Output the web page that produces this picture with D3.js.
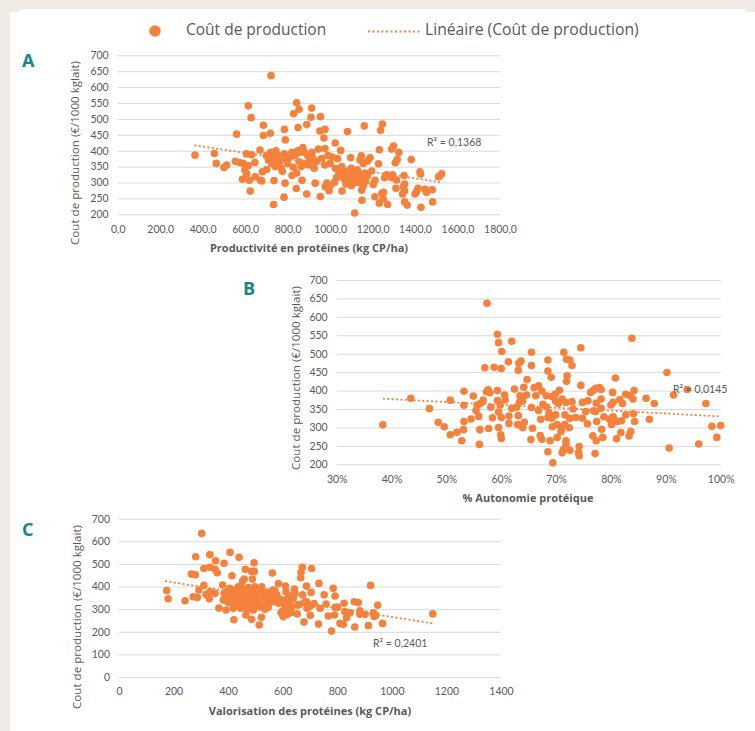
<!DOCTYPE html>
<html>
<head>
<meta charset="utf-8">
<script src="https://cdn.jsdelivr.net/npm/d3@7"></script>
<style>
  html, body { margin: 0; padding: 0; background: #efebe4; }
  svg { display: block; }
  text { font-family: "Open Sans", Lato, sans-serif; fill: #595959; }
</style>
</head>
<body>
<div id="container"></div>
<script>
/* DATA : [x, cout de production] */
const pointsA = [[722,636],[615,541],[628,504],[560,452],[686,480],[686,448],[719,455],[785,467],[789,434],[843,551],[854,530],[828,516],[913,534],[910,505],[955,507],[849,473],[890,482],[952,462],[976,467],[971,440],[1082,460],[1161,478],[1246,484],[1238,464],[1024,424],[1050,401],[976,407],[1299,415],[1290,405],[1324,394],[1232,403],[1382,372],[1316,372],[1307,362],[1228,359],[1097,378],[1147,384],[1141,371],[1188,378],[1177,368],[1156,360],[1196,336],[1211,307],[1203,294],[1211,255],[1244,266],[1252,269],[1250,248],[1232,235],[1271,231],[1116,204],[1150,244],[1149,276],[1156,289],[1167,303],[1257,315],[1266,324],[1294,324],[1290,315],[1313,308],[1310,282],[1348,322],[1351,295],[1345,287],[1351,274],[1341,264],[1351,239],[1363,229],[1423,334],[1426,327],[1414,282],[1407,271],[1400,264],[1447,279],[1454,269],[1481,277],[1483,239],[1428,222],[1511,318],[1525,327],[1518,322],[364,386],[455,391],[464,360],[500,347],[513,355],[554,367],[573,363],[591,360],[615,353],[599,339],[607,327],[587,310],[620,307],[624,273],[646,363],[607,390],[631,387],[648,318],[672,307],[678,305],[681,334],[701,341],[670,402],[736,306],[788,298],[734,231],[783,254],[841,281],[890,264],[954,256],[868,307],[821,322],[843,330],[827,348],[930,298],[985,298],[977,287],[995,274],[1056,273],[700,385],[710,370],[720,395],[725,360],[735,375],[745,400],[742,350],[755,385],[762,365],[770,345],[775,335],[785,390],[790,375],[800,360],[812,380],[820,395],[835,385],[848,400],[860,395],[872,410],[855,365],[865,350],[880,360],[895,385],[905,370],[915,395],[925,345],[935,365],[945,405],[960,375],[975,355],[990,385],[1000,360],[1010,380],[1025,345],[1035,375],[1045,340],[1055,350],[1060,325],[1070,335],[1080,310],[1090,320],[1100,345],[1105,300],[1112,330],[1120,315],[1128,340],[1135,300],[1145,325],[1155,310],[1165,330],[1175,320],[1100,290],[1110,310],[1075,295],[1030,315],[1020,300],[1000,290],[715,380],[728,388],[738,365],[750,372],[768,378],[880,395],[900,355],[920,375],[1040,325],[1052,335],[1065,312],[1085,330],[1095,305],[1115,320],[1125,300],[1140,312]];
const trendA = [[361,417],[1520,301]];

const pointsB = [[57.4,637],[59.3,553],[59.5,530],[60.1,506],[61.9,534],[57,462],[58.7,463],[60,460],[61.3,478],[63.1,455],[63.2,474],[63.6,480],[65.5,504],[65.5,468],[68.5,483],[68.5,453],[69.1,436],[71.4,504],[71.9,485],[72.5,483],[72.9,468],[72,440],[71.9,425],[74.5,516],[83.8,542],[80.8,434],[74.5,414],[64.7,430],[64.1,409],[62.4,404],[66,408],[66.8,413],[67.4,399],[66.3,386],[64.6,388],[63.4,386],[63.9,372],[63.3,368],[62.8,355],[61.9,352],[61.4,331],[61.4,311],[63.1,332],[63,308],[63.9,299],[64.2,314],[65.7,298],[65.4,267],[65.5,354],[66.8,346],[67.2,322],[67.6,363],[68.2,356],[68.7,340],[69.2,325],[68.5,327],[69.9,334],[69.3,302],[70.2,308],[71,300],[70.9,289],[70.2,273],[68.9,264],[67.1,278],[67.4,268],[68.5,234],[69.4,204],[71.8,264],[71.8,254],[71.3,239],[71.1,231],[72.5,238],[74.2,248],[74.1,232],[74.2,223],[77.1,229],[70.6,401],[69.8,390],[69.2,384],[68.2,386],[69.9,372],[71.1,377],[70.4,365],[71.8,368],[72.9,370],[73.1,350],[71.6,334],[72.5,325],[73.6,327],[72.4,299],[71.6,308],[74.8,368],[75.8,372],[75.4,343],[74.8,325],[75.7,310],[76.3,395],[76.8,401],[77.2,406],[77.9,408],[78.2,403],[78.2,377],[77.3,366],[78.2,352],[77.2,343],[76.8,345],[78.7,329],[77.4,316],[78.3,295],[76.7,277],[77.3,264],[78.5,273],[80.3,395],[80,361],[80.4,368],[81.6,376],[82.1,365],[82.7,390],[83.5,386],[84,377],[84.2,400],[84.1,337],[84.3,316],[82.7,334],[81.9,318],[81.2,316],[80.4,329],[79.7,323],[80.1,308],[81.8,286],[81,269],[83.6,289],[83.3,277],[86.4,379],[87.9,365],[87,322],[90.2,449],[91.4,388],[93.9,403],[97.3,365],[98.4,303],[100,305],[99.3,273],[96,255],[90.6,244],[38.4,307],[43.5,379],[46.9,351],[48.5,314],[49.6,302],[50.7,280],[50.7,374],[51.9,287],[52.8,264],[53.1,294],[53.2,316],[53.2,360],[53.2,398],[54.5,323],[54.9,385],[55.6,361],[55.4,346],[55.9,330],[56.1,294],[56,254],[57.7,297],[58.4,326],[58.1,355],[56.2,365],[56.7,374],[57.3,397],[57.6,402],[57.9,394],[59.3,400],[59.3,373],[59.8,361],[59.5,342],[60,327],[59.5,300],[59.9,280],[60,270],[60.6,388],[60.7,375]];
const trendB = [[38.4,378],[100,330]];

const pointsC = [[303,635],[407,551],[440,529],[333,541],[281,532],[354,514],[495,505],[385,503],[311,480],[333,485],[352,476],[360,461],[265,455],[280,452],[414,448],[463,476],[486,467],[496,467],[562,460],[672,485],[667,463],[666,439],[706,480],[489,433],[459,433],[453,424],[733,414],[584,413],[610,402],[523,399],[498,399],[474,396],[380,407],[311,405],[785,392],[922,405],[687,402],[643,389],[612,377],[704,374],[752,364],[792,358],[673,363],[639,362],[175,382],[180,346],[242,337],[272,355],[287,352],[293,385],[319,365],[333,377],[331,346],[352,370],[366,305],[392,296],[382,340],[395,377],[407,392],[423,363],[437,399],[449,385],[410,340],[429,326],[419,304],[421,253],[446,304],[462,318],[465,274],[486,255],[514,230],[522,264],[492,296],[505,333],[529,318],[547,308],[535,348],[547,374],[572,380],[562,333],[584,326],[596,329],[594,284],[602,267],[617,277],[627,301],[639,348],[653,279],[655,318],[678,243],[688,333],[706,318],[701,273],[689,304],[731,234],[737,304],[759,323],[767,270],[779,203],[790,274],[792,308],[801,308],[810,237],[822,233],[825,326],[828,289],[834,262],[847,284],[862,333],[877,329],[864,221],[883,293],[883,277],[902,277],[914,227],[932,284],[935,267],[941,273],[948,317],[966,237],[1150,279],[385,370],[392,355],[400,330],[405,385],[412,365],[418,345],[425,385],[430,375],[435,355],[440,335],[445,315],[450,395],[455,370],[460,350],[468,335],[472,310],[478,380],[482,360],[488,345],[495,325],[500,375],[508,350],[515,310],[520,385],[528,360],[535,300],[540,375],[548,335],[555,350],[565,385],[570,345],[578,365],[590,345],[598,290],[605,320],[612,300],[620,355],[625,330],[632,310],[645,370],[660,320],[680,330],[695,310],[715,325],[420,320],[440,365],[470,300],[510,330],[560,365],[600,275],[610,340],[630,285]];
const trendC = [[169,424],[1150,237]];

const costTicksAB = d3.range(200, 701, 50);
const costTicksC = d3.range(0, 701, 100);
const protTicksA = d3.range(0, 1801, 200);
const autoTicksB = d3.range(30, 101, 10);
const valoTicksC = d3.range(0, 1401, 200);

const orange = "#f4813c";
const grey = "#595959";
const teal = "#14868c";
const frLocale = d3.formatLocale({ decimal: ",", thousands: "", grouping: [3], currency: ["", "€"] });

/* SVG */
const width = 755, height = 731;
const svg = d3.select("#container").append("svg")
  .attr("width", width)
  .attr("height", height);

// white page behind the charts
svg.append("rect").attr("x", 10).attr("y", 12).attr("width", width - 10).attr("height", height - 12).attr("fill", "white");
svg.append("rect").attr("x", 19).attr("y", 9).attr("width", 745 - 19).attr("height", 4).attr("fill", "white");

function drawPanel(p) {
  const xScale = d3.scaleLinear().domain(p.xDomain).range(p.xRange);
  const yScale = d3.scaleLinear().domain(p.yDomain).range(p.yRange);

  const yAxis = d3.axisLeft(yScale).tickValues(p.yTicks)
    .tickSize(-(p.xRange[1] - p.xRange[0])).tickPadding(9).tickFormat(d3.format("d"));
  svg.append("g")
    .attr("transform", `translate(${p.xRange[0]},0)`)
    .call(yAxis)
    .call(g => g.select(".domain").remove())
    .call(g => g.selectAll("line").attr("stroke", "#d9d9d9").attr("stroke-width", 1))
    .call(g => g.selectAll("text").attr("font-size", 10.5).style("font-family", "Lato").attr("fill", grey));

  const xAxis = d3.axisBottom(xScale).tickValues(p.xTicks)
    .tickSize(0).tickPadding(p.xPad).tickFormat(p.xFormat);
  svg.append("g")
    .attr("transform", `translate(0,${p.yRange[0]})`)
    .call(xAxis)
    .call(g => g.select(".domain").remove())
    .call(g => g.selectAll("text").attr("font-size", 10.5).style("font-family", "Lato").attr("fill", grey));

  // trend line under the points
  svg.append("path")
    .attr("d", d3.line().x(d => xScale(d[0])).y(d => yScale(d[1]))(p.trend))
    .attr("fill", "none")
    .attr("stroke", orange)
    .attr("stroke-width", 1.8)
    .attr("stroke-dasharray", "2 2.4");

  svg.append("g").selectAll("circle")
    .data(p.points)
    .join("circle")
    .attr("cx", d => xScale(d[0]))
    .attr("cy", d => yScale(d[1]))
    .attr("r", 3.8)
    .attr("fill", orange);

  svg.append("text")
    .attr("x", p.xTitlePos[0]).attr("y", p.xTitlePos[1])
    .attr("text-anchor", "middle").attr("dominant-baseline", "middle")
    .attr("font-size", 11).attr("font-weight", 700)
    .text(p.xTitle);

  svg.append("text")
    .attr("transform", `translate(${p.yTitlePos[0]},${p.yTitlePos[1]}) rotate(-90)`)
    .attr("text-anchor", "middle").attr("dominant-baseline", "middle")
    .attr("font-size", 11.6)
    .text("Cout de production (€/1000 kglait)");

  svg.append("text")
    .attr("x", p.r2Pos[0]).attr("y", p.r2Pos[1])
    .attr("dominant-baseline", "middle")
    .attr("font-size", 10.5)
    .style("font-family", "Lato")
    .text(p.r2);

  svg.append("text")
    .attr("x", p.letterPos[0]).attr("y", p.letterPos[1])
    .attr("dominant-baseline", "middle")
    .attr("font-size", 18).attr("font-weight", 700)
    .style("fill", teal)
    .text(p.letter);
}

drawPanel({
  letter: "A", letterPos: [22, 62],
  points: pointsA, trend: trendA,
  xDomain: [0, 1800], xRange: [117.7, 500], yDomain: [200, 700], yRange: [214.3, 55.3],
  xTicks: protTicksA, yTicks: costTicksAB, xPad: 11, xFormat: frLocale.format(".1f"),
  xTitle: "Productivité en protéines (kg CP/ha)", xTitlePos: [309, 249],
  yTitlePos: [76, 153],
  r2: "R² = 0,1368", r2Pos: [427, 143]
});

drawPanel({
  letter: "B", letterPos: [243, 290],
  points: pointsB, trend: trendB,
  xDomain: [30, 100], xRange: [336.7, 720.7], yDomain: [200, 700], yRange: [464.3, 280],
  xTicks: autoTicksB, yTicks: costTicksAB, xPad: 11, xFormat: d => d + "%",
  xTitle: "% Autonomie protéique", xTitlePos: [528, 499],
  yTitlePos: [297, 378],
  r2: "R² = 0,0145", r2Pos: [673, 390]
});

drawPanel({
  letter: "C", letterPos: [22, 531],
  points: pointsC, trend: trendC,
  xDomain: [0, 1400], xRange: [119, 501], yDomain: [0, 700], yRange: [677, 518.7],
  xTicks: valoTicksC, yTicks: costTicksC, xPad: 11, xFormat: d3.format("d"),
  xTitle: "Valorisation des protéines (kg CP/ha)", xTitlePos: [310, 712],
  yTitlePos: [78, 617],
  r2: "R² = 0,2401", r2Pos: [373, 644]
});

/* LEGEND */
svg.append("circle").attr("cx", 155).attr("cy", 31).attr("r", 5.8).attr("fill", orange);
svg.append("text").attr("x", 186).attr("y", 31).attr("dominant-baseline", "middle")
  .attr("font-size", 15.5).text("Coût de production");
svg.append("line").attr("x1", 368).attr("x2", 421).attr("y1", 31.5).attr("y2", 31.5)
  .attr("stroke", orange).attr("stroke-width", 2).attr("stroke-dasharray", "2 2.5");
svg.append("text").attr("x", 425).attr("y", 31).attr("dominant-baseline", "middle")
  .attr("font-size", 15.7).text("Linéaire (Coût de production)");
</script>
</body>
</html>
